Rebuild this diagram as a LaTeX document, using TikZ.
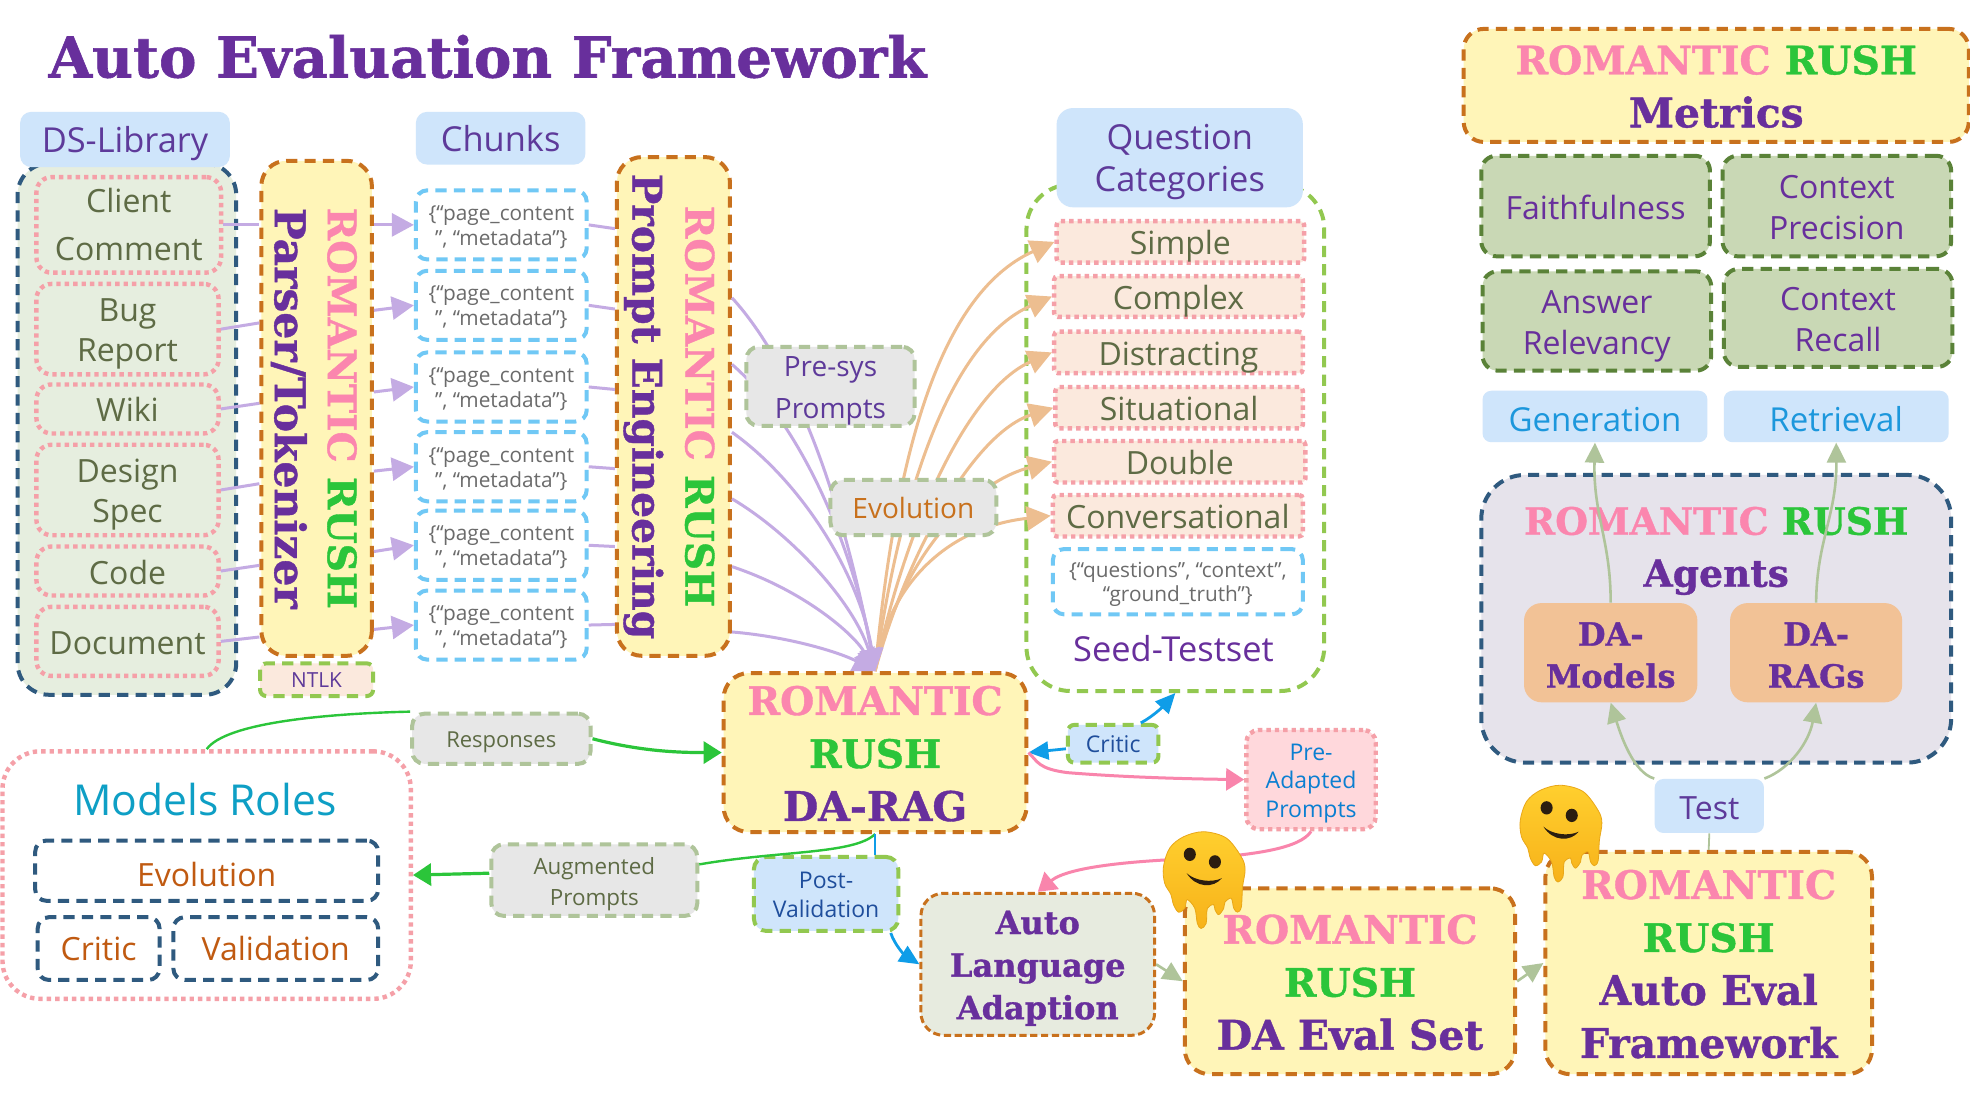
\documentclass[tikz,border=0pt]{standalone}
\usepackage{fontspec}
\usetikzlibrary{arrows.meta}
\setmainfont{Open Sans}
\newfontfamily\slab{DejaVu Serif}[BoldFeatures={FakeBold=1.0}]
\newcommand\sz[2]{\fontsize{#1}{#2}\selectfont}
\newcommand\RO[1]{{\fontsize{19.6}{26.5}\selectfont\textcolor{rpink}{#1}}}
\newcommand\RU[1]{{\fontsize{19.6}{26.5}\selectfont\textcolor{rgreen}{#1}}}
\newcommand\Fr{\rule{0pt}{.825\baselineskip}}
\newcommand\Lr{\rule[-.175\baselineskip]{0pt}{.175\baselineskip}}
\newcommand\Fs{\rule{0pt}{.79\baselineskip}}
\newcommand\Ls{\rule[-.21\baselineskip]{0pt}{.21\baselineskip}}
\definecolor{rpink}{HTML}{FB86AE}
\definecolor{rgreen}{HTML}{2BC53A}
\definecolor{rpurple}{HTML}{682F9C}
\definecolor{cream}{HTML}{FFF5B8}
\definecolor{orangeline}{HTML}{C8711D}
\definecolor{navy}{HTML}{2F5A7F}
\definecolor{dgreen}{HTML}{92C850}
\definecolor{mossline}{HTML}{5A8238}
\definecolor{mossfill}{HTML}{C9D8B5}
\definecolor{lblue}{HTML}{CFE5FB}
\definecolor{gfill}{HTML}{E7E7E7}
\definecolor{dsfill}{HTML}{E6EEDF}
\definecolor{ppeach}{HTML}{FBE9DD}
\definecolor{dotpink}{HTML}{F5A0A8}
\definecolor{sage}{HTML}{AFC49A}
\definecolor{lav}{HTML}{C4ABE3}
\definecolor{peach}{HTML}{EDBE90}
\definecolor{bluearrow}{HTML}{0F9DE8}
\definecolor{skyline}{HTML}{70C8F5}
\definecolor{olive}{HTML}{5E6B45}
\definecolor{pinkline}{HTML}{F985AC}
\definecolor{lpink}{HTML}{FFD8DC}
\definecolor{rust}{HTML}{C05A11}
\definecolor{teal}{HTML}{0E9FC5}
\definecolor{agentfill}{HTML}{E6E3EB}
\definecolor{modelfill}{HTML}{F2C296}
\definecolor{autofill}{HTML}{E7EBDF}
\definecolor{txtblue}{HTML}{1C97DC}
\definecolor{postblue}{HTML}{1F4E9C}
\definecolor{labelpurple}{HTML}{5E3A9A}
\definecolor{meltout}{HTML}{E9A718}
\definecolor{melttop}{HTML}{FFCF2E}
\definecolor{meltbot}{HTML}{F7B21A}
\definecolor{meltface}{HTML}{2B1D10}
\def\U{0.6282pt}
\pgfdeclarelayer{front}
\pgfsetlayers{main,front}
\tikzset{
  sized/.style 2 args={minimum width=#1*\U,minimum height=#2*\U,inner sep=0pt,align=center},
  rc/.style={rounded corners=#1*\U},
  dashthick/.style={dash pattern=on 5.6pt off 3.6pt,line width=2pt},
  dashthin/.style={dash pattern=on 3.6pt off 1.8pt,line width=1.5pt},
  dotthick/.style={dash pattern=on 2.2pt off 2pt,line width=2.2pt},
  lbl/.style={fill=lblue,rc=9,text=labelpurple,font=\sz{17.2}{21}},
  dsbox/.style={draw=dotpink,dotthick,fill=dsfill,rc=12,text=olive,font=\sz{16}{20}},
  yellowbox/.style={draw=orangeline,dashthick,fill=cream,rc=20,text=rpurple,font=\slab\bfseries\sz{20.4}{26.5}},
  chunkbox/.style={draw=skyline,dashthick,fill=white,rc=9,text=black!58,font=\sz{10.4}{12.4}},
  graybox/.style={draw=sage,dashthick,fill=gfill,rc=10},
  qbox/.style={draw=dotpink,dotthick,fill=ppeach,rc=3,text=olive,font=\sz{16}{20}},
  mossbox/.style={draw=mossline,dashthick,fill=mossfill,rc=12,text=rpurple,font=\sz{16}{20.5}},
  navybox/.style={draw=navy,dashthick,fill=white,rc=9,text=rust,font=\sz{16}{20}},
  txt/.style={inner sep=0pt,align=center},
  lavarrow/.style={draw=lav,line width=1.5pt,-{Triangle[length=11pt,width=11.5pt,fill=lav]}},
  lavline/.style={draw=lav,line width=1.5pt},
  peacharrow/.style={draw=peach,line width=1.5pt,-{Triangle[length=12pt,width=12pt,fill=peach]}},
  greenarrow/.style={draw=rgreen,line width=1.6pt,-{Triangle[length=9pt,width=11pt,fill=rgreen]}},
  bluearr/.style={draw=bluearrow,line width=1.4pt,-{Triangle[length=10pt,width=9pt,fill=bluearrow]}},
  pinkarr/.style={draw=pinkline,line width=1.5pt,-{Triangle[length=9pt,width=11pt,fill=pinkline]}},
  sagearr/.style={draw=sage,line width=1.3pt,-{Triangle[length=10pt,width=9.5pt,fill=sage]}},
  melt/.pic={
    \draw[draw=meltout,line width=0.4pt,top color=melttop,bottom color=meltbot]
      plot[smooth cycle,tension=0.55] coordinates {(32,0)(50,5)(62,20)(65,30)(63,44)(62,60)(59,64)(56,61)(54,53)(49,56)(48,61)(44,66)(41,62)(40,58)(35,61)(34,73)(30,77)(27,73)(25,61)(19,54)(17,61)(12,64)(8,58)(6,50)(1,41)(0,28)(5,13)(16,4)};
    \fill[meltface] (21,18) ellipse [x radius=4.8,y radius=5.3];
    \fill[meltface] (41,24) ellipse [x radius=4.8,y radius=5.3];
    \fill[meltface] (18.5,33) .. controls (25,39) and (38,41) .. (46.5,37) .. controls (40,45) and (26,45) .. cycle;
  }
}
\begin{document}
\begin{tikzpicture}[x=\U,y=-\U]
\useasboundingbox (0,0) rectangle (1568,871);
\fill[white] (0,0) rectangle (1568,871);

\node[txt,text=rpurple,font=\slab\bfseries\sz{28.1}{32}] (title) at (388,45) {Auto Evaluation Framework};

% DS library
\node[sized={174}{423},draw=navy,dashthick,fill=dsfill,rc=25] (ds) at (101,341.5) {};
\node[sized={167}{44},lbl] (dslib) at (99.5,111) {\Fr DS-Library\Lr};
\node[sized={147}{76},dsbox] (client) at (102.5,179) {Client\\[4pt]Comment};
\node[sized={145}{72},dsbox] (bug) at (101.5,262) {\Fr Bug\\Report\Lr};
\node[sized={145}{39},dsbox] (wiki) at (101.5,325.5) {\Fr Wiki\Lr};
\node[sized={145}{72},dsbox] (design) at (101.5,390) {\Fr Design\\Spec\Lr};
\node[sized={145}{39},dsbox] (code) at (101.5,454.5) {\Fr Code\Lr};
\node[sized={145}{55},dsbox] (document) at (101.5,510.5) {\Fr Document\Lr};

% parser
\node[sized={394}{88},yellowbox,rotate=-90] (parser) at (252,325) {\rule{0pt}{17.3pt}\RO{ROMANTIC} \RU{RUSH}\\{\sz{21.2}{26.5}Parser/Tokenizer}};
\node[sized={90}{26},draw=dgreen,dashthick,fill=ppeach,rc=5,text=labelpurple,font=\sz{10.4}{12}] (ntlk) at (252,541) {NTLK};

% chunks
\node[sized={135}{42},lbl] (chunks) at (398.5,110) {\Fr Chunks\Lr};
\node[sized={136}{55},chunkbox] (c1) at (399,179) {\Fr\{“page\_content\\”, “metadata”\}\Lr};
\node[sized={136}{55},chunkbox] (c2) at (399,243) {\Fr\{“page\_content\\”, “metadata”\}\Lr};
\node[sized={136}{55},chunkbox] (c3) at (399,308) {\Fr\{“page\_content\\”, “metadata”\}\Lr};
\node[sized={136}{55},chunkbox] (c4) at (399,371.5) {\Fr\{“page\_content\\”, “metadata”\}\Lr};
\node[sized={136}{55},chunkbox] (c5) at (399,434) {\Fr\{“page\_content\\”, “metadata”\}\Lr};
\node[sized={136}{55},chunkbox] (c6) at (399,497.5) {\Fr\{“page\_content\\”, “metadata”\}\Lr};

% prompt engineering
\node[sized={397}{90},yellowbox,rotate=-90] (prompt) at (536,323.5) {\rule{0pt}{19pt}\RO{ROMANTIC} \RU{RUSH}\\Prompt Engineering};

% seed testset
\node[sized={237}{403},draw=dgreen,dashthick,fill=white,rc=35] (seed) at (935.5,348.5) {};
\node[sized={196}{79},lbl,rc=13] (qc) at (939,125.5) {\Fr Question\\Categories\Lr};
\node[sized={197}{33},qbox] (simple) at (939.5,192.5) {\Fr Simple\Lr};
\node[sized={198}{32},qbox] (complex) at (938,236) {\Fr Complex\Lr};
\node[sized={198}{33},qbox] (distracting) at (938,280.5) {\Fr Distracting\Lr};
\node[sized={197}{33},qbox] (situational) at (938.5,324.5) {\Fr Situational\Lr};
\node[sized={200}{33},qbox] (double) at (939,367.5) {\Fr Double\Lr};
\node[sized={199}{33},qbox] (conv) at (937.5,410.5) {\Fr Conversational\Lr};
\node[sized={199}{52},chunkbox] (jsonbox) at (937.5,463) {\Fr\{“questions”, “context”,\\“ground\_truth”\}\Lr};
\node[txt,text=rpurple,font=\sz{17.2}{21}] (seedtxt) at (934,516) {Seed-Testset};

% DA-RAG
\node[sized={241}{126},yellowbox] (darag) at (696.5,599) {\Fs\RO{ROMANTIC}\\\RU{RUSH}\\DA-RAG\Ls};

% models roles
\node[sized={325}{197},draw=dotpink,dotthick,fill=white,rc=30] (models) at (164.5,696.5) {};
\node[txt,text=teal,font=\sz{21.3}{25}] (modelstxt) at (163,636) {Models Roles};
\node[sized={273}{48},navybox] (evo) at (164.5,693) {\rule{0pt}{16.4pt}Evolution};
\node[sized={97}{50},navybox] (critrole) at (78.5,755) {Critic};
\node[sized={163}{50},navybox] (valrole) at (219.5,755) {Validation};

% small labels
\node[sized={142}{40},graybox,text=olive,font=\sz{11}{14}] (resp) at (399,588) {\Fr Responses\Lr};
\node[sized={164}{57},graybox,text=olive,font=\sz{11.2}{15.5}] (augm) at (473,700.5) {\Fr Augmented\\Prompts\Lr};
\node[sized={115}{59},draw=dgreen,dashthick,fill=lblue,rc=10,text=postblue,font=\sz{11.5}{14.5}] (post) at (657.5,711.5) {\Fr Post-\\Validation\Lr};
\node[sized={72}{30},draw=dgreen,dashthick,fill=lblue,rc=5,text=postblue,font=\sz{11.5}{14}] (critic) at (886,592) {Critic};
\node[sized={103}{79},draw=dotpink,dotthick,fill=lpink,rc=10,text=teal!80!blue,font=\sz{11.5}{14.3}] (preadapt) at (1043.5,620.5) {\Fr Pre-\\Adapted\\Prompts\Lr};
\node[sized={186}{113},draw=orangeline,dashthin,fill=autofill,rc=18,text=rpurple,font=\slab\bfseries\sz{16}{21.3}] (auto) at (826,767.5) {\Fs Auto\\Language\\Adaption\Ls};
\node[sized={263}{148},yellowbox] (daeval) at (1074.5,781) {\Fs\RO{ROMANTIC}\\\RU{RUSH}\\DA Eval Set\Ls};
\node[sized={260}{177},yellowbox] (aueval) at (1360,766.5) {\Fs\RO{ROMANTIC}\\\RU{RUSH}\\Auto Eval\\Framework\Ls};

% metrics
\node[sized={402}{90},yellowbox,rc=16] (metrics) at (1366,68) {\Fs\RO{ROMANTIC} \RU{RUSH}\\Metrics\Ls};
\node[sized={182}{80},mossbox] (faith) at (1270,164) {\Fr Faithfulness\Lr};
\node[sized={182}{80},mossbox] (cprec) at (1462,164) {\Fr Context\\Precision\Lr};
\node[sized={182}{79},mossbox] (answer) at (1271,255.5) {\Fr Answer\\Relevancy\Lr};
\node[sized={182}{78},mossbox] (crecall) at (1463,253) {\Fr Context\\Recall\Lr};
\node[sized={179}{41},fill=lblue,rc=7,text=txtblue,font=\sz{16.5}{20}] (gen) at (1269.5,331.5) {\rule{0pt}{15.6pt}Generation};
\node[sized={179}{41},fill=lblue,rc=7,text=txtblue,font=\sz{16.5}{20}] (ret) at (1461.5,331.5) {\rule{0pt}{15.6pt}Retrieval};
\node[sized={374}{229},draw=navy,dashthick,fill=agentfill,rc=35] (agents) at (1366,492.5) {};
\node[txt,text=rpurple,font=\slab\bfseries\sz{18.8}{26}] (agentstxt) at (1366,438.5) {\textcolor{rpink}{ROMANTIC} \textcolor{rgreen}{RUSH}\\Agents};
\node[sized={138}{79},fill=modelfill,rc=14,text=rpurple,font=\slab\bfseries\sz{16}{21}] (damodels) at (1282,519.5) {\rule{0pt}{14.2pt}DA-\\Models};
\node[sized={137}{79},fill=modelfill,rc=14,text=rpurple,font=\slab\bfseries\sz{16}{21}] (darags) at (1445.5,519.5) {\rule{0pt}{14.2pt}DA-\\RAGs};
\node[sized={87}{43},fill=lblue,rc=7,text=labelpurple,font=\sz{16}{20}] (test) at (1360.5,641.5) {\rule{0pt}{14pt}Test};

% connectors: library to parser
\draw[lavline] (client.east) -- (parser.south |- 0,179);
\draw[lavline] (bug.east) -- (parser.south |- 0,257);
\draw[lavline] (wiki.east) -- (parser.south |- 0,321);
\draw[lavline] (design.east) -- (parser.south |- 0,385);
\draw[lavline] (code.east) -- (parser.south |- 0,450);
\draw[lavline] (document.east) -- (parser.south |- 0,507);
% parser to chunks
\draw[lavarrow] (parser.north |- 0,179) -- (c1.west);
\draw[lavarrow] (parser.north |- 0,247) -- (c2.west);
\draw[lavarrow] (parser.north |- 0,312) -- (c3.west);
\draw[lavarrow] (parser.north |- 0,375) -- (c4.west);
\draw[lavarrow] (parser.north |- 0,439) -- (c5.west);
\draw[lavarrow] (parser.north |- 0,501) -- (c6.west);
% chunks to prompt
\draw[lavline] (c1.east) -- (prompt.south |- 0,182);
\draw[lavline] (c2.east) -- (prompt.south |- 0,246);
\draw[lavline] (c3.east) -- (prompt.south |- 0,310);
\draw[lavline] (c4.east) -- (prompt.south |- 0,373);
\draw[lavline] (c5.east) -- (prompt.south |- 0,435);
\draw[lavline] (c6.east) -- (prompt.south |- 0,497);
% DA-RAG to question categories
\draw[peacharrow] (darag.north) .. controls (712,370) and (745,235) .. (simple.west);
\draw[peacharrow] (darag.north) .. controls (718,380) and (760,270) .. (complex.west);
\draw[peacharrow] (darag.north) .. controls (720,420) and (770,310) .. (distracting.west);
\draw[peacharrow] (darag.north) .. controls (722,440) and (775,345) .. (situational.west);
\draw[peacharrow] (darag.north) .. controls (715,450) and (770,385) .. (double.west);
\draw[peacharrow] (darag.north) .. controls (705,470) and (750,420) .. (conv.west);
% prompt to DA-RAG
\draw[lavarrow] (prompt.north |- 0,237) .. controls (640,300) and (675,420) .. (darag.north);
\draw[lavarrow] (prompt.north |- 0,290) .. controls (640,340) and (680,440) .. (darag.north);
\draw[lavarrow] (prompt.north |- 0,344) .. controls (640,385) and (685,460) .. (darag.north);
\draw[lavarrow] (prompt.north |- 0,397) .. controls (630,425) and (680,480) .. (darag.north);
\draw[lavarrow] (prompt.north |- 0,451) .. controls (640,470) and (680,505) .. (darag.north);
\draw[lavarrow] (prompt.north |- 0,503) .. controls (630,507) and (670,520) .. (darag.north);
% green loop
\draw[draw=rgreen,line width=1.2pt] (models.north) .. controls (180,575) and (260,568) .. (resp.north west);
\draw[greenarrow] (resp.east) .. controls (510,598) and (540,599) .. (darag.west);
\draw[draw=rgreen,line width=1.2pt] (darag.south) .. controls (680,680) and (620,677) .. (augm.east |- 0,688);
\draw[greenarrow] (augm.west |- 0,695) -- (models.east);
% blue
\draw[draw=bluearrow,line width=1pt] (darag.south) -- (post.north -| darag.south);
\draw[bluearr] (709,0 |- post.south) .. controls (712,752) and (720,760) .. (auto.west);
\draw[bluearr] (critic.west |- 0,596) -- (darag.east);
\draw[bluearr] (908,0 |- critic.north) .. controls (918,570) and (926,562) .. (seed.south);
% pink
\draw[pinkarr] (darag.east) .. controls (826,606) and (826,612) .. (850,615) .. controls (900,619) and (950,620) .. (preadapt.west);
\draw[pinkarr] (preadapt.south) .. controls (1035,675) and (1000,680) .. (960,683) .. controls (900,685) and (850,690) .. (auto.north);
% sage
\draw[sagearr] (auto.east) -- (daeval.west);
\draw[sagearr] (daeval.east) -- (aueval.west);
\draw[draw=sage,line width=0.9pt] (aueval.north) -- (test.south);
\draw[sagearr] (test.north west) .. controls (1300,615) and (1290,585) .. (damodels.south);
\draw[sagearr] (test.north east) .. controls (1425,612) and (1440,590) .. (darags.south);
\draw[sagearr] (damodels.north) .. controls (1282,430) and (1268,410) .. (gen.south);
\draw[sagearr] (darags.north) .. controls (1446,430) and (1462,410) .. (ret.south);

\begin{pgfonlayer}{front}
\node[sized={134}{63},graybox,text=labelpurple,font=\sz{14}{21}] (presys) at (661,307.5) {\rule{0pt}{14.8pt}Pre-sys\\Prompts\Lr};
\node[sized={132}{44},graybox,text=orangeline,font=\sz{14}{18}] (evolbox) at (727,404) {Evolution};
\pic at (926,662) {melt};
\pic at (1210,625) {melt};
\end{pgfonlayer}
\end{tikzpicture}
\end{document}
